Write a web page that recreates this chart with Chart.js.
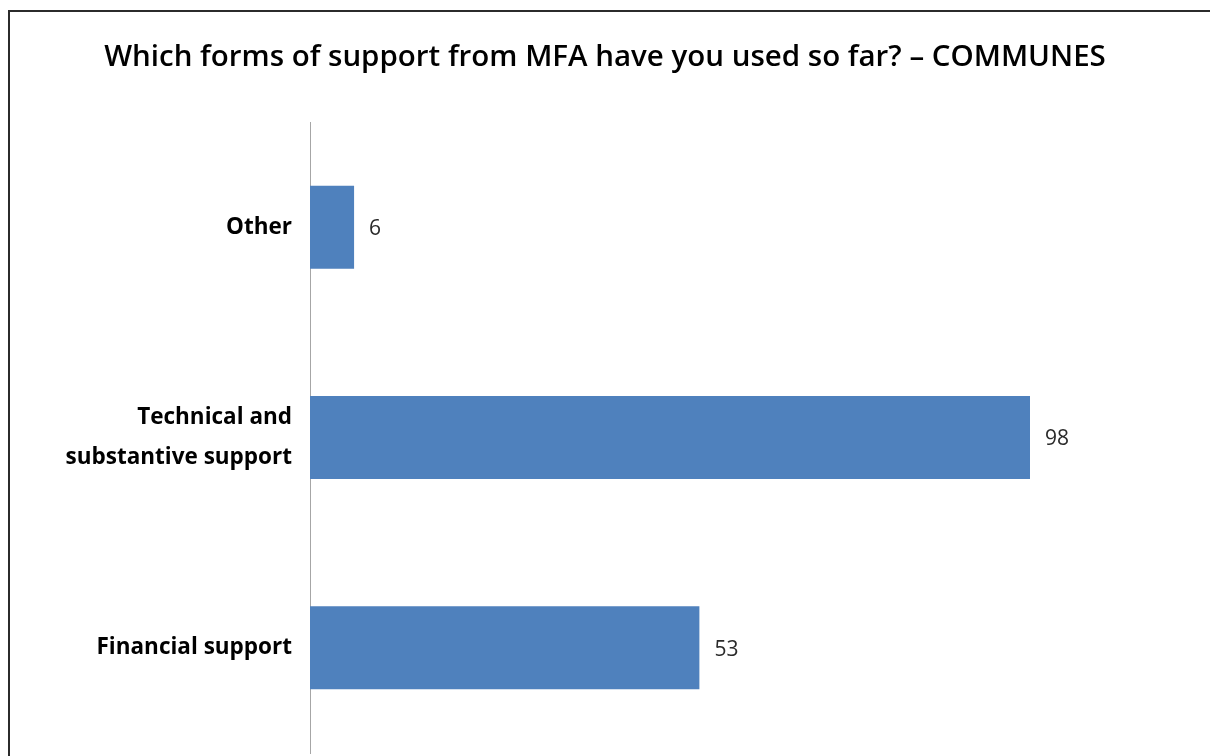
<!DOCTYPE html>
<html>
<head>
<meta charset="utf-8">
<script src="https://cdn.jsdelivr.net/npm/chart.js@4/dist/chart.umd.min.js"></script>
<style>
  html, body { margin: 0; padding: 0; background: #fff; }
  #wrap { position: relative; width: 1210px; height: 756px; overflow: hidden; }
  #frame { position: absolute; left: 8px; top: 10px; width: 1220px; height: 760px;
           border-left: 2px solid #2b2b2b; border-top: 2px solid #2b2b2b; pointer-events: none; }
  canvas { position: absolute; left: 0; top: 0; }
</style>
</head>
<body>
<div id="wrap">
  <canvas id="chart" width="1210" height="756"></canvas>
  <div id="frame"></div>
</div>
<script>
// Survey answers (communes), listed top to bottom
const categories = ['Other', ['Technical and', 'substantive support'], 'Financial support'];
const responses = [6, 98, 53];
const titleText = 'Which forms of support from MFA have you used so far? \u2013 COMMUNES';

// Writes each bar's count just past its end
const valueLabels = {
  id: 'valueLabels',
  afterDatasetsDraw(chart) {
    const ctx = chart.ctx;
    const meta = chart.getDatasetMeta(0);
    ctx.save();
    ctx.font = '400 21px "Open Sans", sans-serif';
    ctx.fillStyle = '#2a2a2a';
    ctx.textAlign = 'left';
    ctx.textBaseline = 'middle';
    meta.data.forEach((bar, i) => {
      ctx.fillText(String(responses[i]), bar.x + 15, bar.y + 2);
    });
    ctx.restore();
  }
};

new Chart(document.getElementById('chart'), {
  type: 'bar',
  data: {
    labels: categories,
    datasets: [{
      data: responses,
      backgroundColor: '#4F81BD',
      borderWidth: 0,
      categoryPercentage: 1,
      barPercentage: 0.395
    }]
  },
  options: {
    indexAxis: 'y',
    responsive: false,
    animation: false,
    devicePixelRatio: 1,
    layout: { padding: { left: 0, right: 0, top: 0, bottom: 3 } },
    plugins: {
      legend: { display: false },
      tooltip: { enabled: false },
      title: {
        display: true,
        text: titleText,
        color: '#000',
        font: { family: '"Open Sans", sans-serif', size: 29.5, weight: '600', lineHeight: 1.2 },
        padding: { top: 40, bottom: 46.6 }
      }
    },
    scales: {
      x: {
        display: false,
        min: 0,
        max: 122.5
      },
      y: {
        grid: { display: false, drawTicks: false },
        border: { display: true, color: '#a6a6a6', width: 1 },
        ticks: {
          color: '#000',
          padding: 18,
          font: { family: '"Open Sans", sans-serif', size: 22.5, weight: '700', lineHeight: 1.77 }
        },
        afterFit(scale) {
          scale.width = 310;
          scale.paddingTop = 0;
          scale.paddingBottom = 0;
        }
      }
    }
  },
  plugins: [valueLabels]
});
</script>
</body>
</html>
